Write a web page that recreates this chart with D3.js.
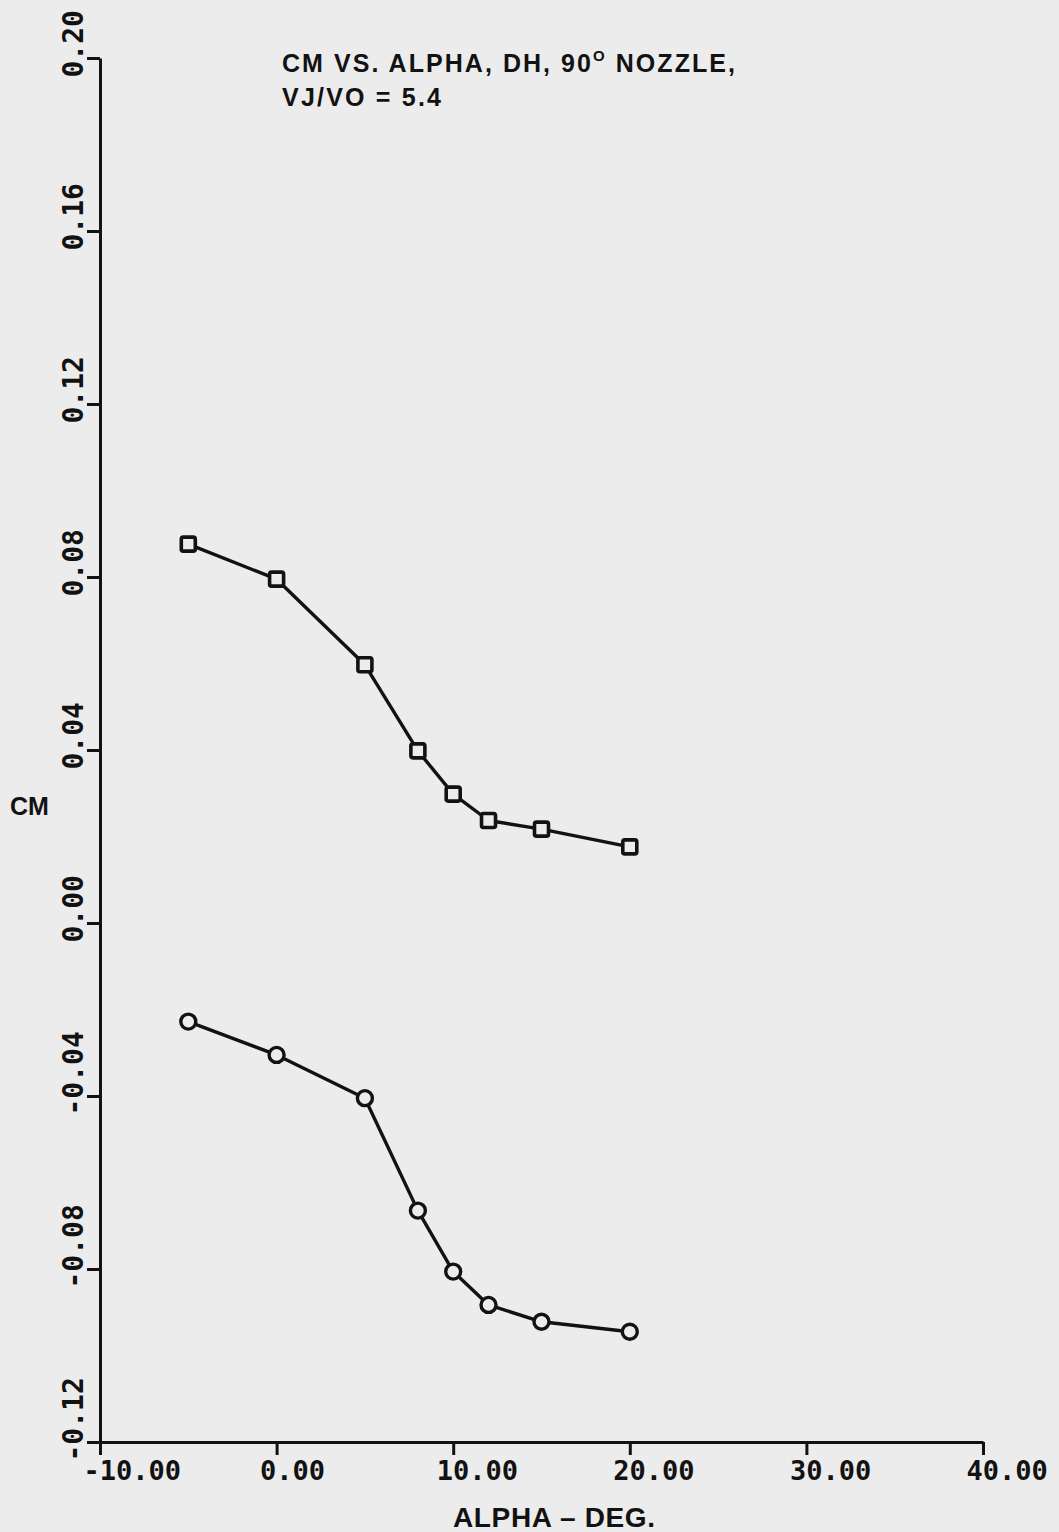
<!DOCTYPE html>
<html>
<head>
<meta charset="utf-8">
<script src="https://cdn.jsdelivr.net/npm/d3@7"></script>
<style>
  html, body { margin: 0; padding: 0; background: #ececec; }
  svg { display: block; }
</style>
</head>
<body>
<div class="chart"></div>
<script>
// data
const alpha = [-5, 0, 5, 8, 10, 12, 15, 20];
const cmSquare = [0.0876, 0.0795, 0.0597, 0.0398, 0.0298, 0.0237, 0.0217, 0.0176];
const cmCircle = [-0.0228, -0.0305, -0.0405, -0.0665, -0.0806, -0.0883, -0.0922, -0.0945];

const xTicks = [-10, 0, 10, 20, 30, 40];
const xTickLabels = ["-10.00", "0.00", "10.00", "20.00", "30.00", "40.00"];
const yTicks = [-0.12, -0.08, -0.04, 0, 0.04, 0.08, 0.12, 0.16, 0.2];
const yTickLabels = ["-0.12", "-0.08", "-0.04", "0.00", "0.04", "0.08", "0.12", "0.16", "0.20"];

const width = 1059, height = 1532;
const ink = "#121212";

const svg = d3
  .select(".chart")
  .append("svg")
  .attr("width", width)
  .attr("height", height);

svg.append("rect").attr("width", width).attr("height", height).attr("fill", "#ececec");

const xScale = d3.scaleLinear().domain([-10, 40]).range([100, 983]);
const yScale = d3.scaleLinear().domain([-0.12, 0.2]).range([1442, 58]);

// x axis
const xAxis = d3
  .axisBottom(xScale)
  .tickValues(xTicks)
  .tickSizeInner(13)
  .tickSizeOuter(0)
  .tickFormat((d, i) => xTickLabels[i]);

const gx = svg.append("g").attr("transform", `translate(0,${yScale(-0.12)})`).call(xAxis);
gx.select(".domain").attr("stroke", ink).attr("stroke-width", 3);
gx.selectAll(".tick line").attr("stroke", ink).attr("stroke-width", 3);
gx.selectAll(".tick text")
  .attr("x", -17)
  .attr("y", 38)
  .attr("dy", null)
  .attr("text-anchor", "start")
  .attr("fill", ink)
  .style("font-family", "'DejaVu Sans Mono', monospace")
  .style("font-weight", "bold")
  .style("font-size", "27px");

// y axis
const yAxis = d3
  .axisLeft(yScale)
  .tickValues(yTicks)
  .tickSizeInner(13)
  .tickSizeOuter(0)
  .tickFormat((d, i) => yTickLabels[i]);

const gy = svg.append("g").attr("transform", `translate(${xScale(-10)},0)`).call(yAxis);
gy.select(".domain").attr("stroke", ink).attr("stroke-width", 3);
gy.selectAll(".tick line").attr("stroke", ink).attr("stroke-width", 3);
gy.selectAll(".tick text")
  .attr("x", null)
  .attr("dy", null)
  .attr("text-anchor", "start")
  .attr("transform", "translate(-17,19) rotate(-90)")
  .attr("fill", ink)
  .style("font-family", "'DejaVu Sans Mono', monospace")
  .style("font-weight", "bold")
  .style("font-size", "28px");

// lines + markers
const line = d3
  .line()
  .x((d) => xScale(d[0]))
  .y((d) => yScale(d[1]));

const squareData = alpha.map((a, i) => [a, cmSquare[i]]);
const circleData = alpha.map((a, i) => [a, cmCircle[i]]);

[squareData, circleData].forEach((data) => {
  svg
    .append("path")
    .datum(data)
    .attr("d", line)
    .attr("fill", "none")
    .attr("stroke", ink)
    .attr("stroke-width", 3.4)
    .attr("stroke-linejoin", "round");
});

svg
  .selectAll("rect.sq")
  .data(squareData)
  .enter()
  .append("rect")
  .attr("class", "sq")
  .attr("x", (d) => xScale(d[0]) - 7)
  .attr("y", (d) => yScale(d[1]) - 7)
  .attr("width", 14)
  .attr("height", 14)
  .attr("rx", 2)
  .attr("fill", "#ececec")
  .attr("stroke", ink)
  .attr("stroke-width", 3.6);

svg
  .selectAll("circle.ci")
  .data(circleData)
  .enter()
  .append("circle")
  .attr("class", "ci")
  .attr("cx", (d) => xScale(d[0]))
  .attr("cy", (d) => yScale(d[1]))
  .attr("r", 7.5)
  .attr("fill", "#ececec")
  .attr("stroke", ink)
  .attr("stroke-width", 3.4);

// titles
const sans = "'Liberation Sans', Arial, sans-serif";

const t1 = svg
  .append("text")
  .attr("x", 282)
  .attr("y", 72)
  .attr("textLength", 453)
  .attr("lengthAdjust", "spacing")
  .attr("fill", ink)
  .style("font-family", sans)
  .style("font-weight", "bold")
  .style("font-size", "25px");
t1.append("tspan").text("CM  VS.  ALPHA,  DH,  90");
t1.append("tspan").attr("dy", -11).style("font-size", "15px").text("O");
t1.append("tspan").attr("dy", 11).text("  NOZZLE,");

svg
  .append("text")
  .attr("x", 282)
  .attr("y", 106)
  .attr("textLength", 159)
  .attr("lengthAdjust", "spacing")
  .attr("fill", ink)
  .style("font-family", sans)
  .style("font-weight", "bold")
  .style("font-size", "25px")
  .text("VJ/VO  =  5.4");

svg
  .append("text")
  .attr("x", 453)
  .attr("y", 1527)
  .attr("textLength", 202)
  .attr("lengthAdjust", "spacing")
  .attr("fill", ink)
  .style("font-family", sans)
  .style("font-weight", "bold")
  .style("font-size", "28px")
  .text("ALPHA \u2013 DEG.");

svg
  .append("text")
  .attr("x", 10)
  .attr("y", 815)
  .attr("fill", ink)
  .style("font-family", sans)
  .style("font-weight", "bold")
  .style("font-size", "25px")
  .text("CM");
</script>
</body>
</html>
